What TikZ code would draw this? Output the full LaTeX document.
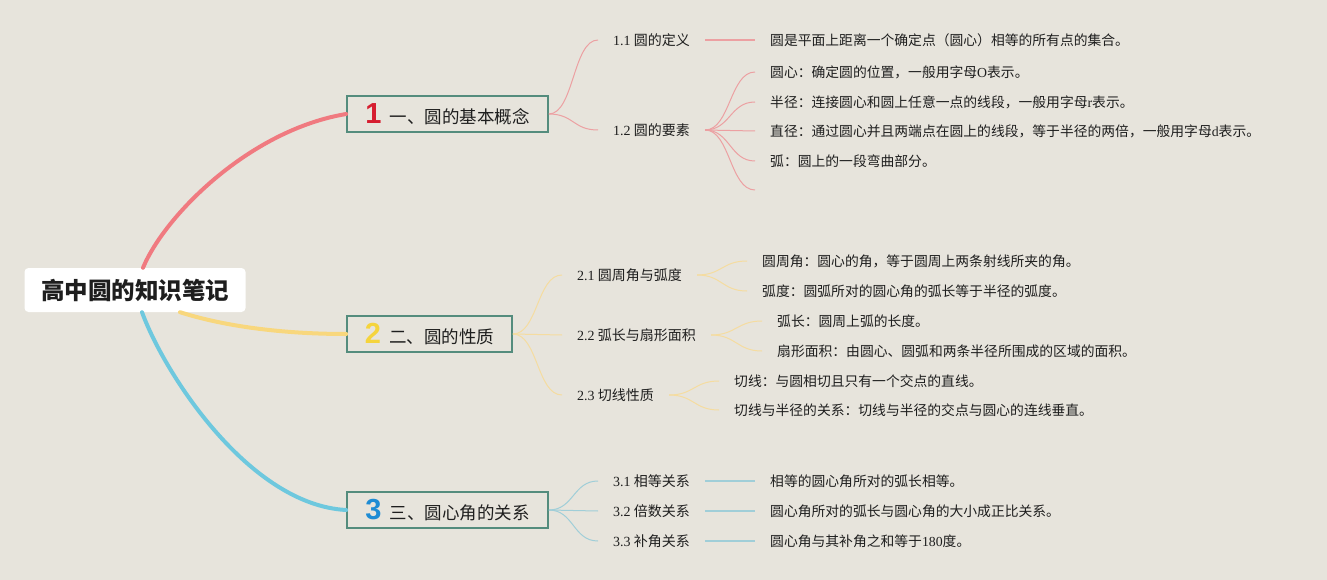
\documentclass[tikz,border=0pt]{standalone}
\usepackage{fontspec}
\setmainfont{Liberation Serif}
\newfontfamily\cjk{Noto Sans CJK SC}
\newfontfamily\numfont{Liberation Sans}
\usetikzlibrary{positioning}
\definecolor{bgc}  {RGB}{231,228,220}
\definecolor{txt}  {RGB}{ 30, 30, 30}
\definecolor{bord} {RGB}{ 84,140,125}
\definecolor{nred} {RGB}{214, 30, 48}
\definecolor{nyel} {RGB}{245,212, 60}
\definecolor{nblu} {RGB}{ 30,140,212}
\definecolor{redT} {RGB}{240,122,128}
\definecolor{yelT} {RGB}{248,215,125}
\definecolor{bluT} {RGB}{110,200,222}
\definecolor{redt} {RGB}{236,160,162}
\definecolor{yelt} {RGB}{245,220,160}
\definecolor{blut} {RGB}{160,206,216}
\newcommand{\lat}[1]{{\rmfamily #1}}
\newcommand{\numb}[2]{{\numfont\bfseries\fontsize{29}{30}\selectfont\color{#1}#2}\hspace{8pt}}
\tikzset{
  % Root title
  RootN/.style={fill=white,rounded corners=4pt,minimum width=221pt,
                minimum height=44pt,inner sep=0pt,text=txt,
                font=\cjk\bfseries\fontsize{23.5}{28}\selectfont},
  % Main topic box
  MainN/.style={draw=bord,fill=bgc,line width=1.6pt,minimum width=#1,
                minimum height=36pt,inner sep=0pt,text=txt,
                font=\cjk\fontsize{17.5}{20}\selectfont},
  MainN/.default=201pt,
  % Sub topic text
  SubN/.style={anchor=west,inner xsep=15pt,inner ysep=2pt,text=txt,
               font=\cjk\fontsize{14}{16}\selectfont},
  % Leaf text
  LeafN/.style={anchor=west,inner xsep=15pt,inner ysep=2pt,text=txt,
                font=\cjk\fontsize{13.8}{16}\selectfont},
  % Thick trunks
  TrkR/.style={line width=4pt,color=redT,line cap=round},
  TrkY/.style={line width=4pt,color=yelT,line cap=round},
  TrkB/.style={line width=4pt,color=bluT,line cap=round},
  % Thin twigs
  TwR/.style={line width=1pt,color=redt},
  TwY/.style={line width=1pt,color=yelt},
  TwB/.style={line width=1.4pt,color=blut},
}
\begin{document}
\begin{tikzpicture}[x=1pt,y=-1pt]
  \useasboundingbox[fill=bgc] (0,0) rectangle (1327,580);
  % root and main topics
  \node[RootN] at (135,290) (root) {高中圆的知识笔记};
  \node[MainN] at (447.5,114) (b1) {\numb{nred}{1}一、圆的基本概念};
  \node[MainN=165pt] at (429.5,334) (b2) {\numb{nyel}{2}二、圆的性质};
  \node[MainN] at (447.5,510) (b3) {\numb{nblu}{3}三、圆心角的关系};
  \draw[TrkR] ([xshift=8pt]root.north) .. controls (165,215) and (250,130) .. (b1.west);
  \draw[TrkY] ([xshift=45pt]root.south) .. controls (230,328) and (290,334) .. (b2.west);
  \draw[TrkB] ([xshift=7pt]root.south) .. controls (165,375) and (250,505) .. (b3.west);

  % branch 1
  \node[SubN] at (598,40) (s11) {\lat{1.1} 圆的定义};
  \node[SubN] at (598,130) (s12) {\lat{1.2} 圆的要素};
  \draw[TwR] (b1.east) .. controls +(25,0) and +(-25,0) .. (s11.west);
  \draw[TwR] (b1.east) .. controls +(25,0) and +(-25,0) .. (s12.west);
  \node[LeafN] at (755,40) (l11) {圆是平面上距离一个确定点（圆心）相等的所有点的集合。};
  \draw[TwR,line width=1.4pt] (s11.east) -- (l11.west);
  \node[LeafN] at (755,72) (l12a) {圆心：确定圆的位置，一般用字母\lat{O}表示。};
  \node[LeafN] at (755,102) (l12b) {半径：连接圆心和圆上任意一点的线段，一般用字母\lat{r}表示。};
  \node[LeafN] at (755,131) (l12c) {直径：通过圆心并且两端点在圆上的线段，等于半径的两倍，一般用字母\lat{d}表示。};
  \node[LeafN] at (755,161) (l12d) {弧：圆上的一段弯曲部分。};
  \coordinate (l12e) at (755,190);
  \draw[TwR] (s12.east) .. controls +(25,0) and +(-25,0) .. (l12a.west);
  \draw[TwR] (s12.east) .. controls +(25,0) and +(-25,0) .. (l12b.west);
  \draw[TwR] (s12.east) .. controls +(25,0) and +(-25,0) .. (l12c.west);
  \draw[TwR] (s12.east) .. controls +(25,0) and +(-25,0) .. (l12d.west);
  \draw[TwR] (s12.east) .. controls +(25,0) and +(-25,0) .. (l12e);

  % branch 2
  \node[SubN] at (562,275) (s21) {\lat{2.1} 圆周角与弧度};
  \node[SubN] at (562,335) (s22) {\lat{2.2} 弧长与扇形面积};
  \node[SubN] at (562,395) (s23) {\lat{2.3} 切线性质};
  \draw[TwY] (b2.east) .. controls +(25,0) and +(-25,0) .. (s21.west);
  \draw[TwY] (b2.east) .. controls +(25,0) and +(-25,0) .. (s22.west);
  \draw[TwY] (b2.east) .. controls +(25,0) and +(-25,0) .. (s23.west);
  \node[LeafN] at (747,261) (l21a) {圆周角：圆心的角，等于圆周上两条射线所夹的角。};
  \node[LeafN] at (747,291) (l21b) {弧度：圆弧所对的圆心角的弧长等于半径的弧度。};
  \node[LeafN] at (762,321) (l22a) {弧长：圆周上弧的长度。};
  \node[LeafN] at (762,351) (l22b) {扇形面积：由圆心、圆弧和两条半径所围成的区域的面积。};
  \node[LeafN] at (719,381) (l23a) {切线：与圆相切且只有一个交点的直线。};
  \node[LeafN] at (719,410) (l23b) {切线与半径的关系：切线与半径的交点与圆心的连线垂直。};
  \draw[TwY] (s21.east) .. controls +(25,0) and +(-25,0) .. (l21a.west);
  \draw[TwY] (s21.east) .. controls +(25,0) and +(-25,0) .. (l21b.west);
  \draw[TwY] (s22.east) .. controls +(25,0) and +(-25,0) .. (l22a.west);
  \draw[TwY] (s22.east) .. controls +(25,0) and +(-25,0) .. (l22b.west);
  \draw[TwY] (s23.east) .. controls +(25,0) and +(-25,0) .. (l23a.west);
  \draw[TwY] (s23.east) .. controls +(25,0) and +(-25,0) .. (l23b.west);

  % branch 3
  \node[SubN] at (598,481) (s31) {\lat{3.1} 相等关系};
  \node[SubN] at (598,511) (s32) {\lat{3.2} 倍数关系};
  \node[SubN] at (598,541) (s33) {\lat{3.3} 补角关系};
  \draw[TwB,line width=1pt] (b3.east) .. controls +(25,0) and +(-25,0) .. (s31.west);
  \draw[TwB,line width=1pt] (b3.east) .. controls +(25,0) and +(-25,0) .. (s32.west);
  \draw[TwB,line width=1pt] (b3.east) .. controls +(25,0) and +(-25,0) .. (s33.west);
  \node[LeafN] at (755,481) (l31) {相等的圆心角所对的弧长相等。};
  \node[LeafN] at (755,511) (l32) {圆心角所对的弧长与圆心角的大小成正比关系。};
  \node[LeafN] at (755,541) (l33) {圆心角与其补角之和等于\lat{180}度。};
  \draw[TwB] (s31.east) -- (l31.west);
  \draw[TwB] (s32.east) -- (l32.west);
  \draw[TwB] (s33.east) -- (l33.west);
\end{tikzpicture}
\end{document}
